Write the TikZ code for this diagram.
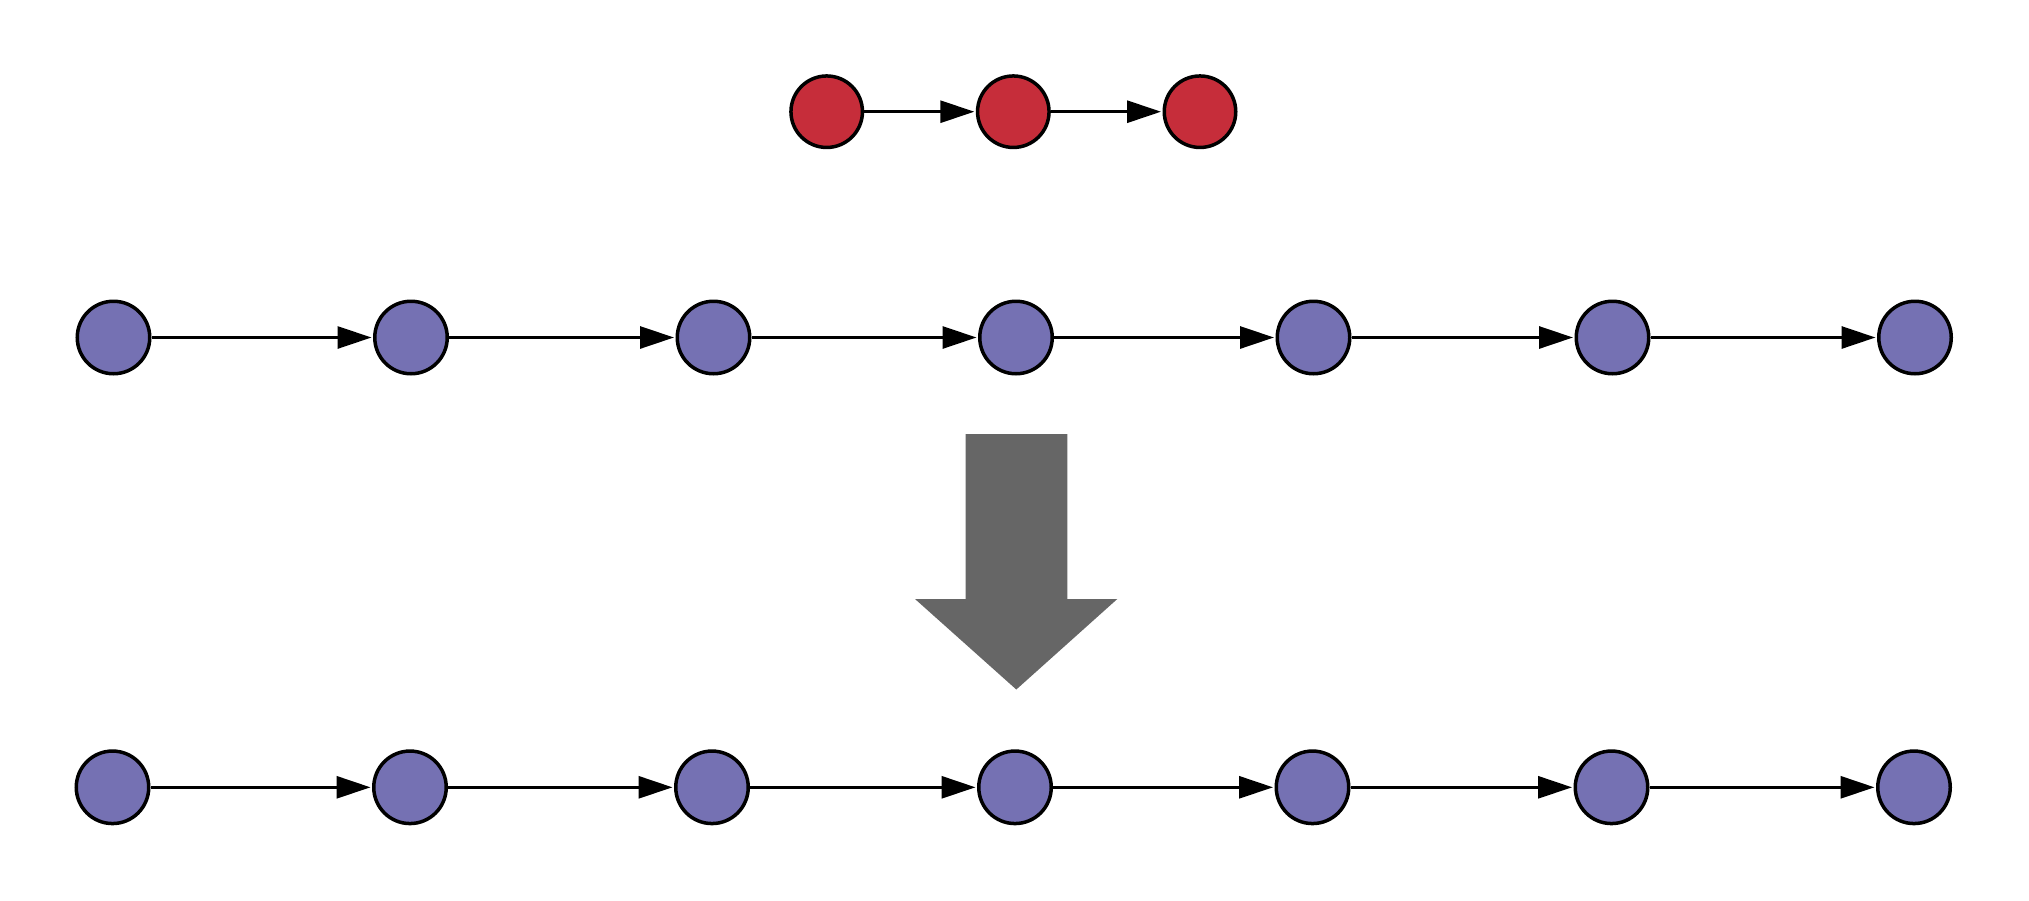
\documentclass[tikz,border=0pt]{standalone}
\usetikzlibrary{arrows.meta}
\definecolor{redfill}{RGB}{198,45,58}
\definecolor{bluefill}{RGB}{117,113,179}
\definecolor{arrowgray}{RGB}{102,102,102}
\tikzset{
  dot/.style={circle, draw=black, line width=3.5pt, minimum size=72.5pt, inner sep=0pt},
  reddot/.style={dot, fill=redfill, minimum size=71.5pt},
  bluedot/.style={dot, fill=bluefill},
  link/.style={line width=3pt, -{Triangle[length=34pt,width=22pt]}, shorten >=1.5pt}
}
\begin{document}
\begin{tikzpicture}[x=1pt,y=-1pt]
\useasboundingbox (0,0) rectangle (2029,900);
% red chain
\node[reddot] (r1) at (826.7,111.7) {};
\node[reddot] (r2) at (1013.3,111.7) {};
\node[reddot] (r3) at (1200,111.7) {};
\draw[link] (r1) -- (r2);
\draw[link] (r2) -- (r3);
% blue row 1
\foreach \i/\x in {1/113.5,2/411,3/713.5,4/1016,5/1313.5,6/1612.5,7/1915}
  \node[bluedot] (a\i) at (\x,337.5) {};
\foreach \i/\j in {1/2,2/3,3/4,4/5,5/6,6/7}
  \draw[link] (a\i) -- (a\j);
% blue row 2
\foreach \i/\x in {1/112.5,2/410,3/712,4/1015,5/1312.5,6/1611.5,7/1914}
  \node[bluedot] (b\i) at (\x,787.3) {};
\foreach \i/\j in {1/2,2/3,3/4,4/5,5/6,6/7}
  \draw[link] (b\i) -- (b\j);
% big gray arrow
\fill[arrowgray] (965.7,434) -- (1067.3,434) -- (1067.3,599) -- (1117.3,599)
  -- (1016.3,689.5) -- (915,599) -- (965.7,599) -- cycle;
\end{tikzpicture}
\end{document}
